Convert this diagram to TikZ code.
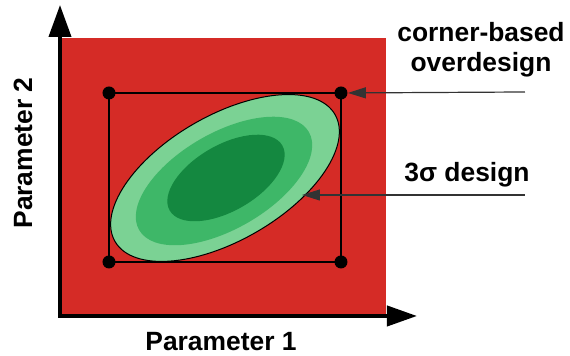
\documentclass[tikz,border=0pt]{standalone}
\usepackage{fontspec}
\setmainfont{Liberation Sans}
\usepackage{xcolor}
\usetikzlibrary{arrows.meta}

\definecolor{boxred}{RGB}{213,43,38}
\definecolor{lightgreen}{RGB}{123,210,148}
\definecolor{midgreen}{RGB}{62,183,104}
\definecolor{darkgreen}{RGB}{20,136,64}

\begin{document}
\begin{tikzpicture}[x=0.5pt, y=0.5pt,
    dot/.style={circle, fill=black, inner sep=0pt, minimum size=6.5pt},
    lbl/.style={font=\bfseries\fontsize{13.2}{15}\selectfont, align=center},
    pointer/.style={-{Triangle[length=9pt,width=5.5pt]}, line width=0.6pt, black!80}]
    \useasboundingbox (0,0) rectangle (570,356);
    \fill[boxred] (60,40) rectangle (386,318);
    % spread of the two parameters
    \filldraw[fill=lightgreen, line width=0.5pt, rotate around={30:(225,178)}] (225,178) ellipse [x radius=127, y radius=62.5];
    \fill[midgreen, rotate around={30:(224,175)}] (224,175) ellipse [x radius=98, y radius=48];
    \fill[darkgreen, rotate around={30:(226,178)}] (226,178) ellipse [x radius=65, y radius=33];
    % corners
    \node[dot] (tl) at (109,263) {};
    \node[dot] (tr) at (341,263) {};
    \node[dot] (br) at (341,94) {};
    \node[dot] (bl) at (109,94) {};
    \draw[line width=0.7pt] (tl.center) -- (tr.center) -- (br.center) -- (bl.center) -- cycle;
    % axes
    \coordinate (origin) at (60,40);
    \coordinate (ytip) at (60,351);
    \coordinate (xtip) at (417,40);
    \draw[line width=2pt, {Triangle[length=16pt,width=11pt]}-{Triangle[length=15pt,width=10pt]}] (ytip) -- (origin) -- (xtip);
    \node[lbl] (p1) at (221,14) {Parameter 1};
    \node[lbl, rotate=90] (p2) at (23,203) {Parameter 2};
    % labels
    \node[lbl] (cornerlbl) at (481,306) {corner-based\\overdesign};
    \node[lbl] (sigmalbl) at (467,181) {3σ design};
    \coordinate (cornerend) at (525,264);
    \coordinate (sigmaend) at (525,161);
    \coordinate (edge) at (302,161);
    \draw[pointer] (cornerend) -- (tr);
    \draw[pointer] (sigmaend) -- (edge);
\end{tikzpicture}
\end{document}
